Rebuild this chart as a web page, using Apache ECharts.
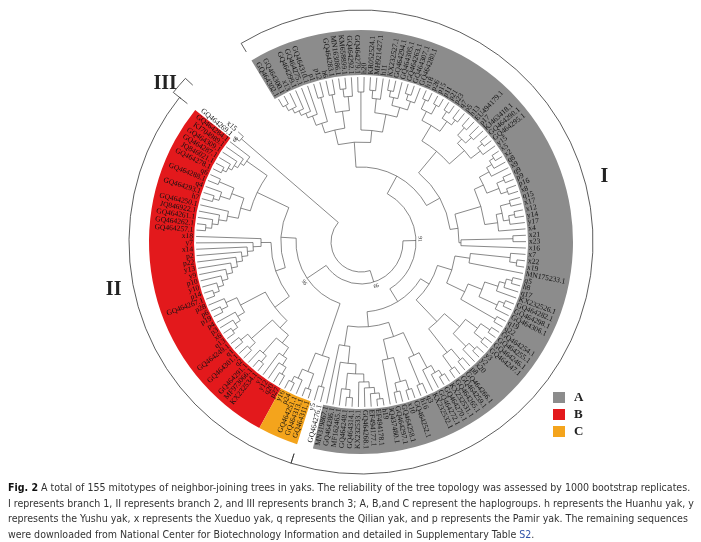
<!DOCTYPE html>
<html>
<head>
<meta charset="utf-8">
<script src="https://cdn.jsdelivr.net/npm/echarts@6/dist/echarts.min.js"></script>
<style>
html, body { margin: 0; padding: 0; background: #fff; }
#main { width: 701px; height: 542px; }
</style>
</head>
<body>
<div id="main"></div>
<script>
// subtrees, tips in clockwise order. ":n" = radius of the node, "#n" = bootstrap value
var treeA1a = "((((((GQ464302.1,GQ464300.1):156,x13):150,GQ464299.1):145,GQ464275.1):140,GQ464310.1):135,(p1,p12):150):125";
var treeA1b = "((h6,GQ464283.1):150,((MN163086.1,KM658899.1):154,GQ464292.1):146):132";
var treeA1c = "(GQ464279.1,h20):150";
var treeA1d = "(((KR052524.1,MH921427.1):152,h11):144,(((KX232527.1,GQ464294.1):154,GQ464305.1):148,((GQ464263.1,GQ464307.1):155,GQ464280.1):149):140):130";
var treeA2 = "((((h18,p26):156,(p15,p11):156):146,((p21,p23):156,(q7,p5):154):148):136,(((h13,EU494179.1):154,(p17,KJ463418.1):152):144,((GQ464290.1,GQ464295.1):156,y15):150):138):118";
var treeA3 = "(((((x5,x2):157,q8):152,x9):146,((q9,p9):156,(p16,x8):155):148):135,(((q15,x17):154,((x12,y14):156,y17):150):144,x4):138):125";
var treeA3b = "((x21,x23):152,x16):100";
var treeA4 = "(((x7,(x22,x19):157):150,MN175233.1):110,(((((q5,h8):156,q17):150,KX232526.1):144,((GQ464282.1,GQ464298.1):156,GQ464306.1):150):130,(q19,q22):155):115):95";
var treeA5 = "((((GQ464254.1,GQ464255.1):156,(GQ464246.1,GQ464247.1):156):145,((y3,y2):156,x20):148):130,((p8,GQ464266.1):154,(GQ464259.1,GQ464265.1):156):140):110";
var treeA6a = "((((KX232531.1,GQ464270.1):156,GQ464272.1):150,KX232532.1):142,(q3,h16):154):125";
var treeA6b = "(((GQ464252.1,x10):155,(GQ464258.1,GQ464297.1):154):145,JQ437480.1):120";
var treeA6c = "(((((((h19,EF494178.1):158,EF494177.1):152,GQ464268.1):146,KX232533.1):140,((GQ464314.1,GQ464248.1):156,MF162465.1):148):132,GQ464286.1):122,MN319867.1):105";
var treeW = "(GQ464276.1,y5):150";
var treeC = "((GQ464311.1,GQ464313.1):156,(GQ464251.1,(p24,y16):156):150):140";
var treeBb1 = "(((p27,q20):154,y12):146,y1):138";
var treeBb2 = "((KX232534.1,MF973066.1):156,GQ464291.1):148";
var treeBb3 = "((q2,GQ464301.1):154,(q1,GQ464249.1):155):146";
var treeBb4 = "((((q13,x6):156,p3):150,p4):144,((p19,p6):155,p28):148):136";
var treeBmid = "((((((((((GQ464267.1,p14):156,y10):150,p10):144,y9):138,y13):132,p22):126,p2):120,x14):114,y7):108,x18):100";
var treeBt1 = "((((GQ464257.1,GQ464262.1):156,GQ464261.1):150,JQ846922.1):144,GQ464250.1):136";
var treeBt2 = "(((h7,GQ464293.1):154,q4):148,(GQ464288.1,q6):154):138";
var treeBt3 = "(((((GQ464278.1,JQ846021.1):156,GQ464287.1):152,GQ464309.1):148,KJ704989.1):144,GQ464284.1):140";
var treeIII = "(GQ464269.1,x15):158#66";

var treeA1 = "((" + treeA1a + "," + treeA1b + "):115,(" + treeA1c + "," + treeA1d + "):112):100";
var treeA6 = "((" + treeA6a + "," + treeA6b + "):100," + treeA6c + "):85";
var treeA = "((" + treeA1 + ",(" + treeA2 + ",(" + treeA3 + "," + treeA3b + "):98):90):75,((" + treeA4 + "," + treeA5 + "):80," + treeA6 + "):70):55#91";
var treeBbot = "(((" + treeBb1 + "," + treeBb2 + "):128," + treeBb3 + "):118," + treeBb4 + "):108";
var treeBtop = "((" + treeBt1 + "," + treeBt2 + "):125," + treeBt3 + "):115";
var treeB = "((" + treeBbot + "," + treeBmid + "):90," + treeBtop + "):80";
var treeBC = "((" + treeW + "," + treeC + "):120," + treeB + "):65#96";
var treeRoot = "((" + treeA + "," + treeBC + "):42#99," + treeIII + "):30";

var bandNames = ['A', 'B', 'C'];
var bandFirst = ['GQ464302.1', 'p27', 'GQ464311.1'];
var bandLast = ['MN319867.1', 'GQ464284.1', 'y16'];
var branchNames = ['I', 'II', 'III'];
var branchFirst = ['GQ464302.1', 'GQ464311.1', 'GQ464269.1'];
var branchLast = ['y5', 'GQ464284.1', 'x15'];

var captionTag = 'Fig. 2';
var captionLines = [
  'A total of 155 mitotypes of neighbor-joining trees in yaks. The reliability of the tree topology was assessed by 1000 bootstrap replicates.',
  'I represents branch 1, II represents branch 2, and III represents branch 3; A, B,and C represent the haplogroups. h represents the Huanhu yak, y',
  'represents the Yushu yak, x represents the Xueduo yak, q represents the Qilian yak, and p represents the Pamir yak. The remaining sequences',
  'were downloaded from National Center for Biotechnology Information and detailed in Supplementary Table '
];
var captionRef = 'S2';

// layout
var A0 = 120, STEP = 2.22;
var TIP_R = 165, LABEL_R = 168, BAND_R0 = 167, BAND_R1 = 212;
var branchRadius = [232, 232, 240];
var branchLabelAngle = [15, 191, 141];
var branchLabelR = 252;
var bandColors = ['#8c8c8c', '#e3191c', '#f4a41c'];
var lineColor = '#555';
var serif = '"Liberation Serif", "DejaVu Serif", serif';

function parseTree(s) {
  var pos = 0;
  function readNode() {
    var node = {children: []};
    if (s.charAt(pos) === '(') {
      pos++;
      node.children.push(readNode());
      while (s.charAt(pos) === ',') {
        pos++;
        node.children.push(readNode());
      }
      pos++;
    } else {
      var m = /^[^,():#]+/.exec(s.slice(pos));
      node.name = m[0];
      pos += m[0].length;
    }
    var m2 = /^:([0-9.]+)/.exec(s.slice(pos));
    if (m2) { node.r = +m2[1]; pos += m2[0].length; }
    var m3 = /^#([0-9]+)/.exec(s.slice(pos));
    if (m3) { node.boot = m3[1]; pos += m3[0].length; }
    return node;
  }
  return readNode();
}

var tips = [], nodes = [], tipAngle = {};
function place(node, parentR) {
  node.pr = parentR;
  if (!node.children.length) {
    node.r = TIP_R;
    node.a = A0 - tips.length * STEP;
    node.a0 = node.a1 = node.a;
    tipAngle[node.name] = node.a;
    tips.push(node);
  } else {
    node.children.forEach(function (c) { place(c, node.r); });
    node.a0 = node.children[0].a;
    node.a1 = node.children[node.children.length - 1].a;
    node.a = (node.a0 + node.a1) / 2;
  }
  nodes.push(node);
}
place(parseTree(treeRoot), -1);

// pixel arc between two data angles, going the way the tips run
function arcOf(cs, api, r, a0, a1) {
  var p = api.coord([r, a0]);
  var q = api.coord([r, a0 - 1]);
  var s0 = Math.atan2(p[1] - cs.cy, p[0] - cs.cx);
  var s1 = Math.atan2(q[1] - cs.cy, q[0] - cs.cx);
  var d = s1 - s0;
  if (d > Math.PI) d -= 2 * Math.PI;
  if (d < -Math.PI) d += 2 * Math.PI;
  var dir = d > 0 ? 1 : -1;
  var sweep = (a0 - a1) * Math.PI / 180;
  return {
    cx: cs.cx, cy: cs.cy,
    r: Math.sqrt((p[0] - cs.cx) * (p[0] - cs.cx) + (p[1] - cs.cy) * (p[1] - cs.cy)),
    startAngle: s0, endAngle: s0 + dir * sweep, clockwise: dir > 0
  };
}

function renderBand(params, api) {
  var cs = params.coordSys;
  var outer = arcOf(cs, api, api.value(0), api.value(1), api.value(2));
  var inner = arcOf(cs, api, api.value(3), api.value(1), api.value(2));
  return {
    type: 'sector',
    shape: {cx: outer.cx, cy: outer.cy, r0: inner.r, r: outer.r,
      startAngle: outer.startAngle, endAngle: outer.endAngle, clockwise: outer.clockwise},
    style: {fill: api.visual('color')}
  };
}

function renderBranch(params, api) {
  var cs = params.coordSys;
  var r = api.value(0), a = api.value(1), pr = api.value(2), a0 = api.value(3), a1 = api.value(4);
  var items = [];
  if (pr >= 0) {
    var p1 = api.coord([pr, a]), p2 = api.coord([r, a]);
    items.push({type: 'line', shape: {x1: p1[0], y1: p1[1], x2: p2[0], y2: p2[1]},
      style: {stroke: lineColor, lineWidth: 0.7}});
  }
  if (a0 !== a1) {
    items.push({type: 'arc', shape: arcOf(cs, api, r, a0, a1),
      style: {fill: 'none', stroke: lineColor, lineWidth: 0.7}});
  }
  var n = nodes[params.dataIndex];
  if (n.boot) {
    var pb = api.coord([r + 4, a + 1.5]);
    items.push({type: 'text', x: pb[0], y: pb[1], rotation: (a - 90) * Math.PI / 180,
      style: {text: n.boot, fontSize: 5.5, fontFamily: serif, fill: '#222', align: 'center', verticalAlign: 'middle'}});
  }
  return {type: 'group', children: items};
}

function radialText(p, a, text, size, weight) {
  var right = Math.cos(a * Math.PI / 180) >= 0;
  return {
    type: 'text', x: p[0], y: p[1],
    rotation: (right ? a : a - 180) * Math.PI / 180,
    style: {text: text, fontSize: size, fontWeight: weight || 'normal', fontFamily: serif, fill: '#111',
      align: right ? 'left' : 'right', verticalAlign: 'middle'}
  };
}

function renderTip(params, api) {
  var a = api.value(1);
  return radialText(api.coord([api.value(0), a]), a, tips[params.dataIndex].name, 7.5);
}

function renderBracket(params, api) {
  var cs = params.coordSys;
  var r = api.value(0), a0 = api.value(1), a1 = api.value(2), la = api.value(3);
  var items = [{type: 'arc', shape: arcOf(cs, api, r, a0, a1),
    style: {fill: 'none', stroke: '#333', lineWidth: 0.8}}];
  [a0, a1].forEach(function (a) {
    var p1 = api.coord([r, a]), p2 = api.coord([r - 10, a]);
    items.push({type: 'line', shape: {x1: p1[0], y1: p1[1], x2: p2[0], y2: p2[1]},
      style: {stroke: '#333', lineWidth: 0.8}});
  });
  var pl = api.coord([branchLabelR, la]);
  items.push({type: 'text', x: pl[0], y: pl[1],
    style: {text: branchNames[params.dataIndex], fontSize: 20, fontWeight: 'bold', fontFamily: serif,
      fill: '#222', align: 'center', verticalAlign: 'middle'}});
  return {type: 'group', children: items};
}

// caption font: a condensed face if one is installed, sized so the widest line fits
var ctx = document.createElement('canvas').getContext('2d');
function hasFont(f) {
  ctx.font = '20px monospace';
  var w0 = ctx.measureText('abcdefghijklm').width;
  ctx.font = '20px "' + f + '", monospace';
  return ctx.measureText('abcdefghijklm').width !== w0;
}
var capFamily = '"Liberation Sans"';
['Liberation Sans Narrow', 'DejaVu Sans Condensed', 'Open Sans Condensed'].some(function (f) {
  if (hasFont(f)) { capFamily = '"' + f + '"'; return true; }
  return false;
});
var capW = 0;
captionLines.forEach(function (line, i) {
  ctx.font = 'bold 10px ' + capFamily;
  var w = i === 0 ? ctx.measureText(captionTag + ' ').width : 0;
  ctx.font = '10px ' + capFamily;
  w += ctx.measureText(line).width;
  capW = Math.max(capW, w);
});
var capSize = Math.min(11.5, 10 * 686 / capW);

var series = [];
bandNames.forEach(function (name, i) {
  series.push({
    name: name, type: 'custom', coordinateSystem: 'polar', silent: true, z: 1,
    itemStyle: {color: bandColors[i]},
    renderItem: renderBand,
    data: [[BAND_R1, tipAngle[bandFirst[i]] + STEP / 2, tipAngle[bandLast[i]] - STEP / 2, BAND_R0]]
  });
});
series.push({
  type: 'custom', coordinateSystem: 'polar', silent: true, z: 2,
  renderItem: renderBranch,
  data: nodes.map(function (n) { return [n.r, n.a, n.pr, n.a0, n.a1]; })
});
series.push({
  type: 'custom', coordinateSystem: 'polar', silent: true, z: 3,
  renderItem: renderTip,
  data: tips.map(function (t) { return [LABEL_R, t.a]; })
});
series.push({
  type: 'custom', coordinateSystem: 'polar', silent: true, z: 3,
  renderItem: renderBracket,
  data: branchNames.map(function (b, i) {
    return [branchRadius[i], tipAngle[branchFirst[i]] + STEP / 2, tipAngle[branchLast[i]] - STEP / 2, branchLabelAngle[i]];
  })
});

var myChart = echarts.init(document.getElementById('main'));
var option = {
  animation: false,
  backgroundColor: '#fff',
  polar: {center: [361, 242], radius: 240},
  radiusAxis: {type: 'value', min: 0, max: 240, show: false},
  angleAxis: {type: 'value', min: -240, max: 120, startAngle: 120, clockwise: false, show: false},
  legend: {
    data: bandNames, orient: 'vertical', left: 553, top: 391, padding: 0,
    icon: 'rect', itemWidth: 12, itemHeight: 11, itemGap: 4, selectedMode: false,
    textStyle: {fontFamily: serif, fontWeight: 'bold', fontSize: 13, color: '#222', padding: [0, 0, 0, 4]}
  },
  title: {
    left: 8, top: 481, padding: 0,
    text: '{b|' + captionTag + '} ' + captionLines[0] + '\n' + captionLines[1] + '\n' +
      captionLines[2] + '\n' + captionLines[3] + '{s|' + captionRef + '}.',
    textStyle: {
      fontFamily: capFamily, fontSize: capSize, fontWeight: 'normal', color: '#333', lineHeight: 15.5,
      rich: {
        b: {fontFamily: capFamily, fontSize: capSize, fontWeight: 'bold', color: '#111', lineHeight: 15.5},
        s: {fontFamily: capFamily, fontSize: capSize, color: '#2f52a8', lineHeight: 15.5}
      }
    }
  },
  series: series
};
myChart.setOption(option);
</script>
</body>
</html>
